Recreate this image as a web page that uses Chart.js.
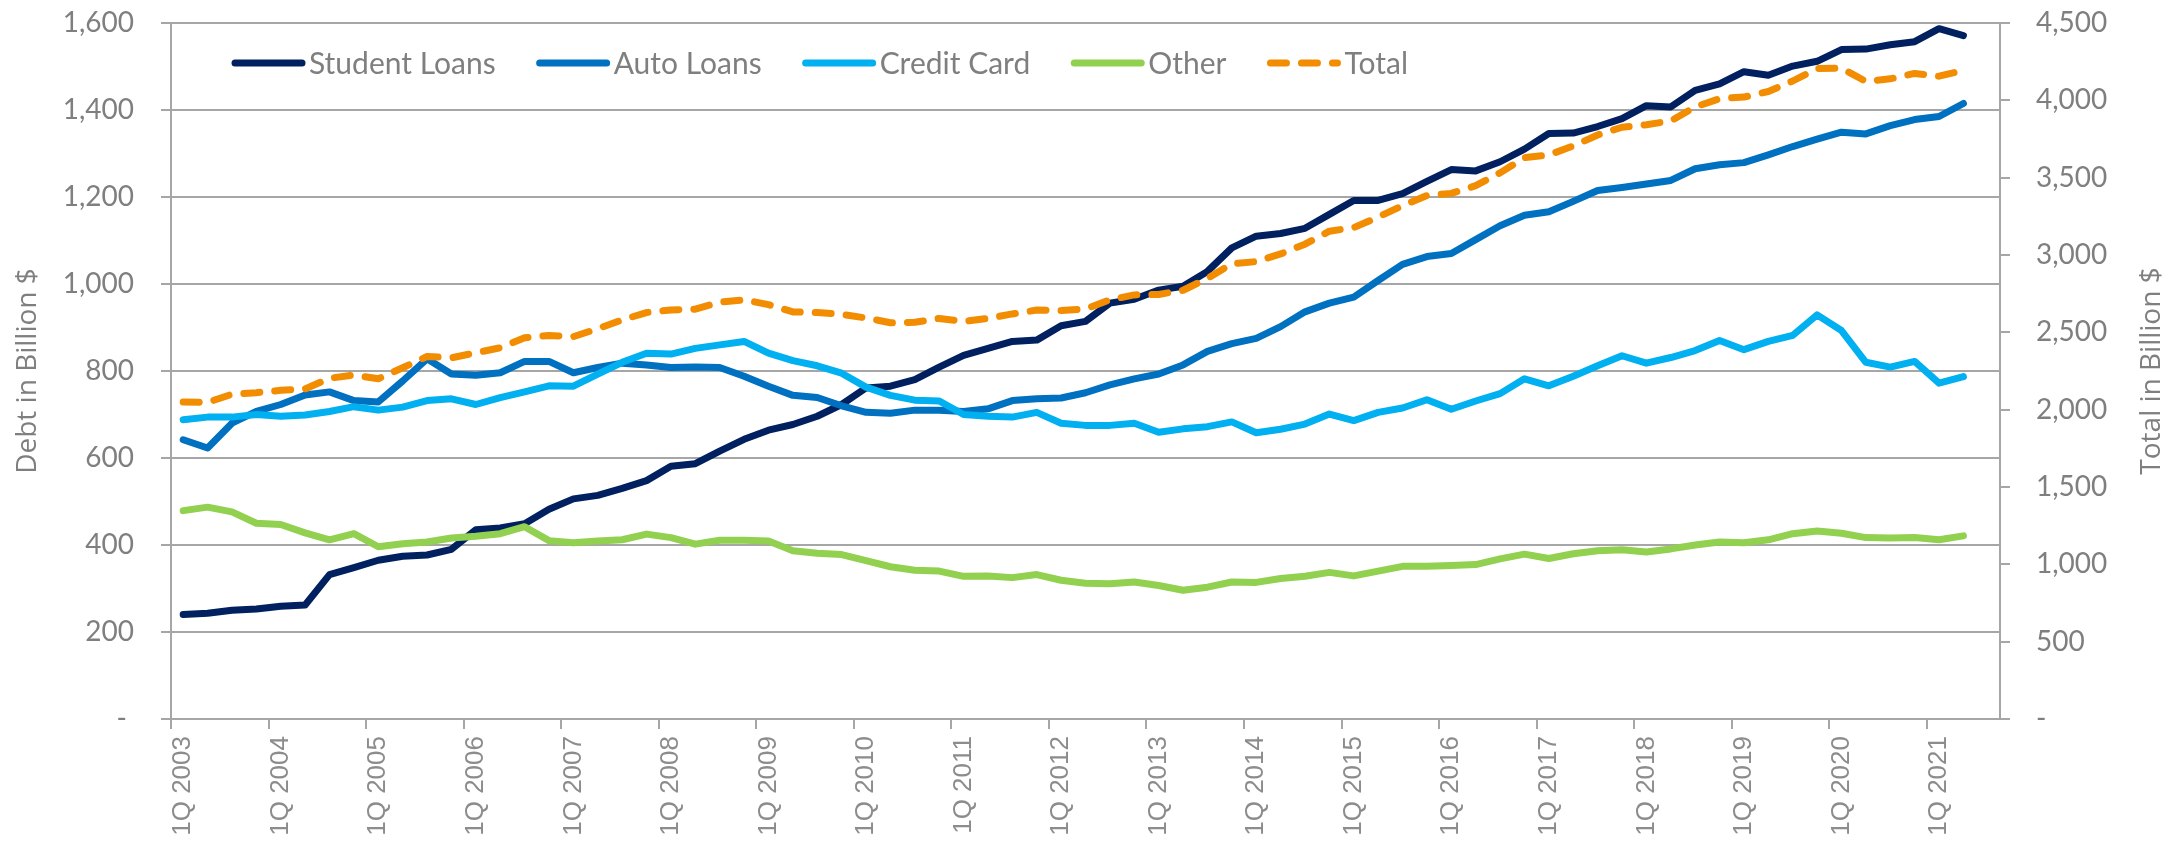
<!DOCTYPE html>
<html>
<head>
<meta charset="utf-8">
<script src="https://cdn.jsdelivr.net/npm/chart.js@4.4.1/dist/chart.umd.min.js"></script>
<style>
  body { margin: 0; background: #fff; }
  canvas { display: block; }
</style>
</head>
<body>
<canvas id="debt" width="2181" height="848"></canvas>
<script>
// quarters on the x axis (last one is empty in the source)
const quarters = [
  '1Q 2003','2Q 2003','3Q 2003','4Q 2003',
  '1Q 2004','2Q 2004','3Q 2004','4Q 2004',
  '1Q 2005','2Q 2005','3Q 2005','4Q 2005',
  '1Q 2006','2Q 2006','3Q 2006','4Q 2006',
  '1Q 2007','2Q 2007','3Q 2007','4Q 2007',
  '1Q 2008','2Q 2008','3Q 2008','4Q 2008',
  '1Q 2009','2Q 2009','3Q 2009','4Q 2009',
  '1Q 2010','2Q 2010','3Q 2010','4Q 2010',
  '1Q 2011','2Q 2011','3Q 2011','4Q 2011',
  '1Q 2012','2Q 2012','3Q 2012','4Q 2012',
  '1Q 2013','2Q 2013','3Q 2013','4Q 2013',
  '1Q 2014','2Q 2014','3Q 2014','4Q 2014',
  '1Q 2015','2Q 2015','3Q 2015','4Q 2015',
  '1Q 2016','2Q 2016','3Q 2016','4Q 2016',
  '1Q 2017','2Q 2017','3Q 2017','4Q 2017',
  '1Q 2018','2Q 2018','3Q 2018','4Q 2018',
  '1Q 2019','2Q 2019','3Q 2019','4Q 2019',
  '1Q 2020','2Q 2020','3Q 2020','4Q 2020',
  '1Q 2021','2Q 2021','3Q 2021'
]

// billions of dollars, left axis
let studentLoans = [
  240, 243, 250, 253, 259, 262, 332, 348, 365, 374, 377, 390, 435, 439, 449,
  482, 506, 514, 530, 548, 581, 587, 616, 643, 664, 677, 696, 723, 761, 765,
  780, 809, 836, 852, 868, 871, 904, 914, 956, 965, 986, 995, 1029, 1083, 1110,
  1116, 1128, 1160, 1192, 1192, 1208, 1236, 1263, 1260, 1281, 1310, 1346, 1347, 1362, 1380,
  1410, 1407, 1445, 1460, 1488, 1480, 1501, 1512, 1539, 1540, 1550, 1557, 1587, 1571, null
]
let autoLoans = [
  642, 623, 680, 707, 723, 745, 752, 732, 729, 777, 828, 793, 790, 796, 822,
  822, 796, 808, 818, 814, 808, 809, 808, 788, 765, 744, 739, 720, 705, 703,
  710, 710, 707, 713, 732, 736, 738, 750, 768, 782, 793, 814, 845, 863, 875,
  902, 936, 956, 970, 1008, 1045, 1063, 1070, 1102, 1134, 1158, 1166, 1190, 1215, 1222,
  1230, 1238, 1265, 1274, 1279, 1297, 1316, 1333, 1349, 1345, 1364, 1378, 1385, 1415, null
]
let creditCard = [
  688, 694, 694, 700, 696, 699, 707, 718, 710, 717, 732, 736, 723, 739, 752,
  766, 765, 793, 820, 841, 839, 852, 860, 868, 841, 824, 812, 795, 763, 744,
  733, 731, 700, 696, 694, 705, 680, 675, 675, 680, 659, 667, 672, 683, 658,
  666, 678, 701, 686, 705, 715, 734, 712, 731, 748, 782, 766, 788, 812, 835,
  818, 831, 847, 870, 849, 868, 882, 929, 893, 820, 809, 822, 772, 787, null
]
let other = [
  479, 487, 476, 450, 447, 428, 412, 426, 396, 403, 407, 416, 420, 426, 442,
  410, 405, 409, 412, 425, 417, 402, 411, 411, 409, 387, 381, 378, 364, 350,
  342, 340, 328, 329, 325, 332, 319, 312, 311, 315, 307, 296, 303, 315, 314,
  323, 328, 337, 329, 340, 351, 351, 353, 355, 368, 379, 369, 380, 387, 389,
  384, 391, 400, 407, 405, 412, 426, 432, 427, 417, 416, 417, 412, 421, null
]
// billions of dollars, right axis
let total = [
  2049, 2047, 2100, 2110, 2125, 2134, 2203, 2224, 2200, 2271, 2344, 2335, 2368, 2400, 2465,
  2480, 2472, 2524, 2580, 2628, 2645, 2650, 2695, 2710, 2679, 2632, 2628, 2616, 2593, 2562,
  2565, 2590, 2571, 2590, 2619, 2644, 2641, 2651, 2710, 2742, 2745, 2772, 2849, 2944, 2957,
  3007, 3070, 3154, 3177, 3245, 3319, 3384, 3398, 3448, 3531, 3629, 3647, 3705, 3776, 3826,
  3842, 3867, 3957, 4011, 4021, 4057, 4125, 4206, 4208, 4122, 4139, 4174, 4156, 4194, null
]

let leftTitle = 'Debt in Billion $'
let rightTitle = 'Total in Billion $'

let gray = '#a6a6a6'
let textGray = '#7f7f7f'
let tickFont = { family: 'Lato', size: 28 }

function fmt(v) {
        if (v == 0) return '- '
        return v.toLocaleString('en-US')
}

// legend sits inside the plot, drawn by hand
let insideLegend = {
        id: 'insideLegend',
        afterDatasetsDraw(chart) {
                let ctx = chart.ctx
                let x = 232
                let y = 63
                ctx.save()
                ctx.font = '30px Lato'
                ctx.textBaseline = 'middle'
                chart.data.datasets.forEach(ds => {
                        ctx.strokeStyle = ds.borderColor
                        ctx.lineWidth = ds.borderWidth
                        ctx.lineCap = 'round'
                        ctx.setLineDash(ds.borderDash || [])
                        ctx.beginPath()
                        ctx.moveTo(x + 3, y)
                        ctx.lineTo(x + 70, y)
                        ctx.stroke()
                        ctx.setLineDash([])
                        ctx.fillStyle = textGray
                        ctx.fillText(ds.label, x + 77, y + 1)
                        x += 77 + ctx.measureText(ds.label).width + 41
                })
                ctx.restore()
        }
}

// right axis title reads bottom-to-top like the left one
let rightTitlePlugin = {
        id: 'rightTitle',
        afterDraw(chart) {
                let ctx = chart.ctx
                let a = chart.chartArea
                ctx.save()
                ctx.translate(2152, (a.top + a.bottom) / 2)
                ctx.rotate(-Math.PI / 2)
                ctx.font = '28px "Open Sans"'
                ctx.fillStyle = textGray
                ctx.textAlign = 'center'
                ctx.textBaseline = 'middle'
                ctx.fillText(rightTitle, 0, 0)
                ctx.restore()
        }
}

// keep the tick padding from pushing the plot down
function fixY(width) {
        return function (s) {
                s.width = width
                s.paddingTop = 0
                s.paddingBottom = 0
        }
}

function line(label, data, color, axis, order) {
        return {
                label: label,
                data: data,
                yAxisID: axis,
                borderColor: color,
                backgroundColor: color,
                borderWidth: 7,
                pointRadius: 0,
                pointHoverRadius: 0,
                tension: 0,
                fill: false,
                borderJoinStyle: 'round',
                borderCapStyle: 'round',
                order: order
        }
}

let totalSet = line('Total', total, '#f28c00', 'y1', 1)
totalSet.borderDash = [16, 15]

new Chart(document.getElementById('debt'), {
        type: 'line',
        data: {
                labels: quarters,
                datasets: [
                        line('Student Loans', studentLoans, '#002060', 'y', 5),
                        line('Auto Loans', autoLoans, '#0070c0', 'y', 4),
                        line('Credit Card', creditCard, '#00b0f0', 'y', 3),
                        line('Other', other, '#92d050', 'y', 2),
                        totalSet
                ]
        },
        options: {
                responsive: false,
                devicePixelRatio: 1,
                animation: false,
                layout: { padding: { top: 23, left: 0, right: 0, bottom: 0 } },
                plugins: {
                        legend: { display: false },
                        tooltip: { enabled: false }
                },
                scales: {
                        x: {
                                offset: true,
                                afterFit(s) { s.height = 129 },
                                grid: {
                                        offset: true,
                                        drawOnChartArea: false,
                                        tickLength: 10,
                                        lineWidth: 2,
                                        color: ctx => ctx.index % 4 == 0 ? gray : 'rgba(0,0,0,0)'
                                },
                                border: { color: gray, width: 2 },
                                ticks: {
                                        autoSkip: false,
                                        maxRotation: 90,
                                        minRotation: 90,
                                        padding: 7,
                                        color: '#8c8c8c',
                                        font: { family: '"Liberation Sans"', size: 26 },
                                        callback: (v, i) => i % 4 == 0 ? quarters[i] : ''
                                }
                        },
                        y: {
                                position: 'left',
                                min: 0,
                                max: 1600,
                                afterFit: fixY(171),
                                grid: { color: gray, lineWidth: 2, tickLength: 10 },
                                border: { color: gray, width: 2 },
                                ticks: {
                                        stepSize: 200,
                                        padding: 27,
                                        color: textGray,
                                        font: tickFont,
                                        callback: fmt
                                },
                                title: {
                                        display: true,
                                        text: leftTitle,
                                        color: textGray,
                                        font: { family: '"Open Sans"', size: 28 },
                                        padding: { top: 11, bottom: 0 }
                                }
                        },
                        y1: {
                                position: 'right',
                                min: 0,
                                max: 4500,
                                afterFit: fixY(181),
                                grid: { drawOnChartArea: false, color: gray, lineWidth: 2, tickLength: 10 },
                                border: { color: gray, width: 2 },
                                ticks: {
                                        stepSize: 500,
                                        padding: 26,
                                        color: textGray,
                                        font: tickFont,
                                        callback: v => v == 0 ? '-' : v.toLocaleString('en-US')
                                }
                        }
                }
        },
        plugins: [insideLegend, rightTitlePlugin]
})
</script>
</body>
</html>
